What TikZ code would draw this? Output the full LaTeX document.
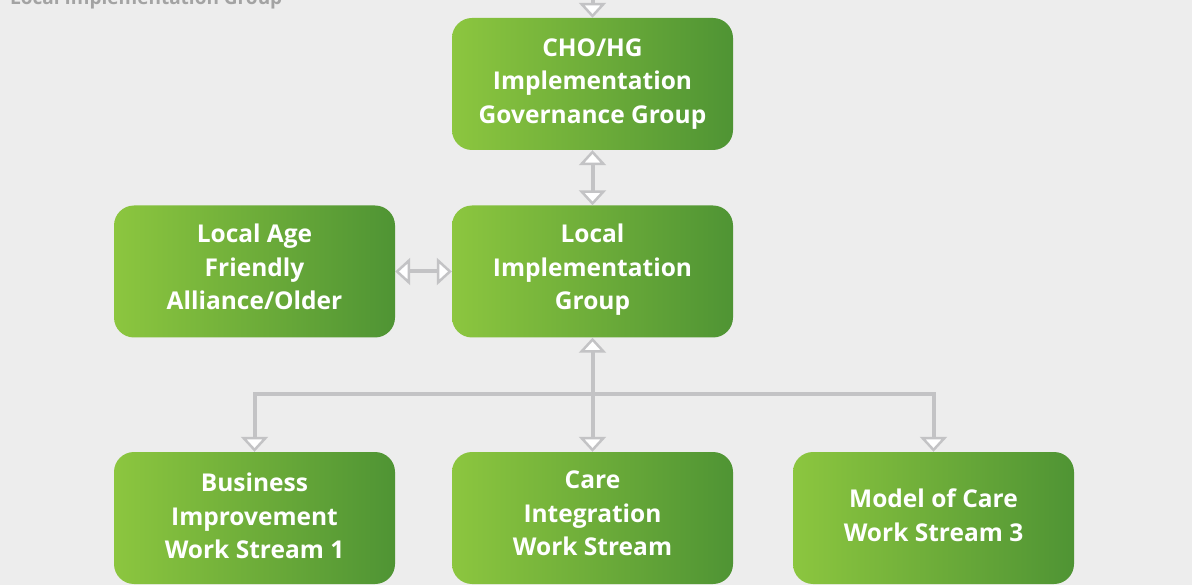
\documentclass[tikz,border=0pt]{standalone}
\usepackage{fontspec}
\setmainfont{Open Sans}
\usetikzlibrary{arrows.meta}
\definecolor{bg}{HTML}{EDEDED}
\definecolor{gl}{HTML}{8CC63F}
\definecolor{gd}{HTML}{4F9434}
\definecolor{ln}{HTML}{C3C3C5}
\definecolor{tg}{HTML}{A3A3A3}
\newcommand{\bxt}[2]{\raisebox{#1}[0pt][0pt]{\parbox{281pt}{\centering #2}}}
\tikzset{
  box/.style={rounded corners=20pt, left color=gl, right color=gd, draw=none,
    minimum width=281pt, minimum height=132pt, inner sep=0pt, align=center,
    text=white, font=\bfseries\fontsize{24.5}{33.5}\selectfont},
  conn/.style={draw=ln, line width=4pt, >={Triangle[length=15pt, width=27pt, fill=white, line width=2.5pt]}},
}
\begin{document}
\begin{tikzpicture}[x=1pt,y=-1pt]
\useasboundingbox[fill=bg] (0,0) rectangle (1192,585);
\node[anchor=base west, text=tg, font=\bfseries\fontsize{19}{24}\selectfont, inner sep=0pt] (title) at (10,5) {Local Implementation Group};
\node[box] (cho) at (592.5,84) {\bxt{-6pt}{CHO/HG\\Implementation\\Governance Group}};
\node[box] (lafa) at (254.5,271.5) {\bxt{-2pt}{Local Age\\Friendly\\Alliance/Older}};
\node[box] (lig) at (592.5,271.5) {\bxt{-4.5pt}{Local\\Implementation\\Group}};
\node[box] (bi) at (254.5,518) {\bxt{-4.5pt}{Business\\Improvement\\Work Stream 1}};
\node[box] (ci) at (592.5,518) {\bxt{-1.5pt}{Care\\Integration\\Work Stream}};
\node[box] (mc) at (933.5,518) {\bxt{-3.5pt}{Model of Care\\Work Stream 3}};
\coordinate (topin) at (592.5,-10);
\coordinate (bus) at (592.5,394);
\draw[conn, ->] (topin) -- (cho.north);
\draw[conn, <->] (cho.south) -- (lig.north);
\draw[conn, <->] (lafa.east) -- (lig.west);
\draw[conn, <->] (lig.south) -- (ci.north);
\draw[conn, ->] (bus) -| (bi.north);
\draw[conn, ->] (bus) -| (mc.north);
\end{tikzpicture}
\end{document}
